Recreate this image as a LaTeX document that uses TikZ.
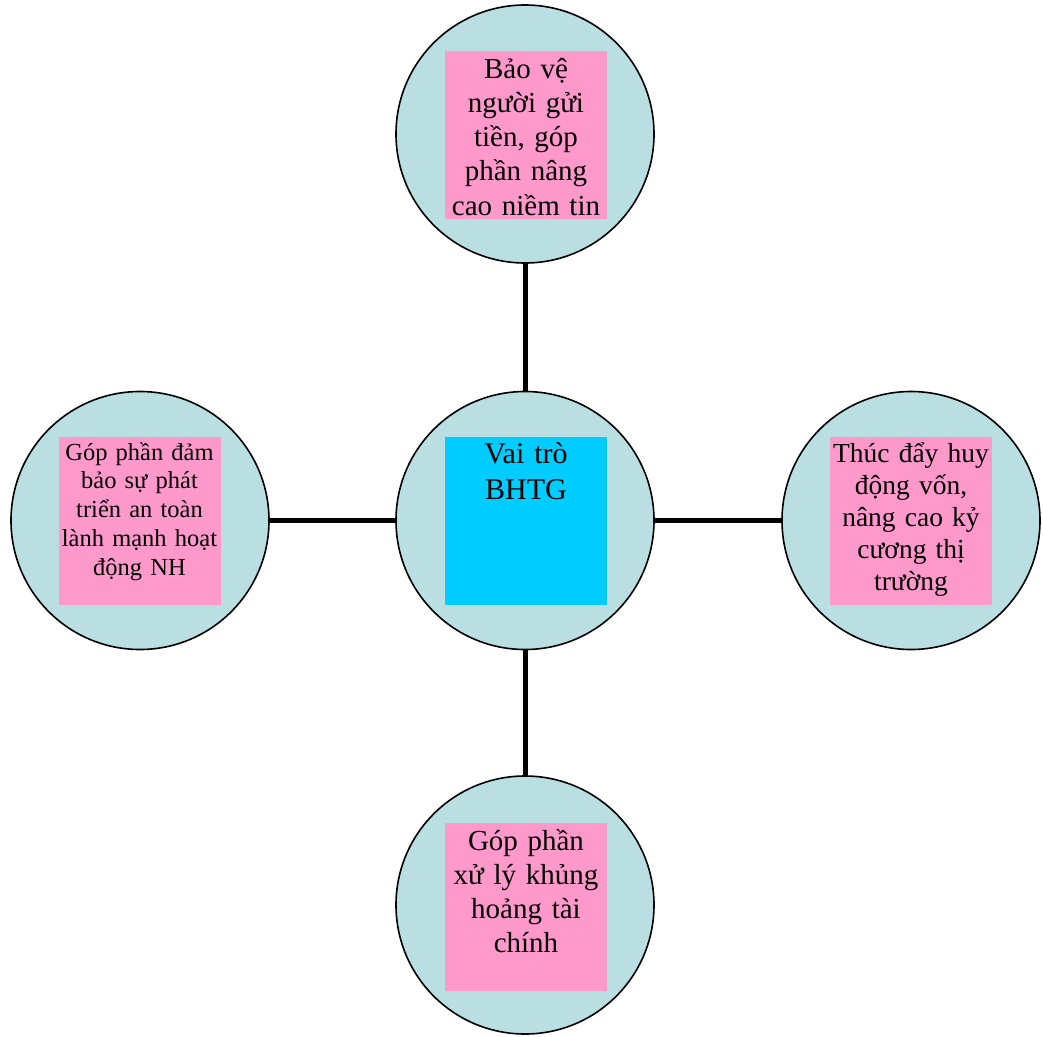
\documentclass[tikz,border=0pt]{standalone}
\usepackage{fontspec}
\setmainfont{Liberation Serif}
\definecolor{ringfill}{HTML}{B9DFE3}
\definecolor{notepink}{HTML}{FF99CC}
\definecolor{corecyan}{HTML}{00CCFF}
\tikzset{
  role/.style={circle, draw=black, line width=1.6pt, fill=ringfill, minimum size=258pt, inner sep=0pt},
  notebox/.style={rectangle, fill=notepink, minimum width=162pt, minimum height=168pt, inner sep=0pt, anchor=north},
  corebox/.style={notebox, fill=corecyan},
  label/.style={anchor=base, inner sep=0pt, text width=164pt, align=center},
  link/.style={line width=5pt, black}
}
\begin{document}
\begin{tikzpicture}[x=1pt, y=-1pt]
\useasboundingbox (0,0) rectangle (1043,1036);

% five circles
\node[role] (top)    at (525,134) {};
\node[role] (core)   at (525,520.5) {};
\node[role] (left)   at (140,520.5) {};
\node[role] (right)  at (911,520.5) {};
\node[role] (bottom) at (525,905) {};

% coloured panels inside the circles
\node[notebox] (topbox)    at (526,51)  {};
\node[corebox] (corebox)   at (526,437) {};
\node[notebox] (leftbox)   at (139.5,437) {};
\node[notebox] (rightbox)  at (911,437) {};
\node[notebox] (bottombox) at (526,823) {};

% texts
\node[label, font=\fontsize{29}{34.3}\selectfont] (toptext) at (526,78)
  {Bảo vệ\\người gửi\\tiền, góp\\phần nâng\\cao niềm tin};
\node[label, font=\fontsize{30}{36}\selectfont] (coretext) at (526,463)
  {Vai trò\\BHTG};
\node[label, font=\fontsize{24.5}{28.8}\selectfont] (lefttext) at (139.5,460)
  {Góp phần đảm\\bảo sự phát\\triển an toàn\\lành mạnh hoạt\\động NH};
\node[label, font=\fontsize{27.5}{32}\selectfont] (righttext) at (911,462)
  {Thúc đẩy huy\\động vốn,\\nâng cao kỷ\\cương thị\\trường};
\node[label, font=\fontsize{29}{34.3}\selectfont] (bottomtext) at (526,850)
  {Góp phần\\xử lý khủng\\hoảng tài\\chính};

% connectors
\draw[link] (core) -- (top);
\draw[link] (core) -- (left);
\draw[link] (core) -- (right);
\draw[link] (core) -- (bottom);
\end{tikzpicture}
\end{document}
